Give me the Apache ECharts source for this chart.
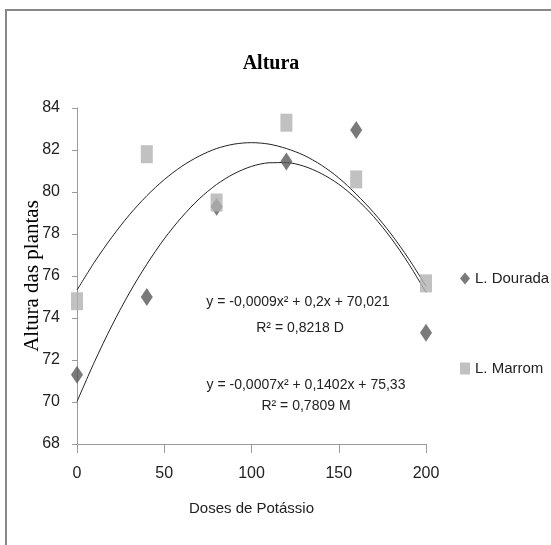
<!DOCTYPE html>
<html>
<head>
<meta charset="utf-8">
<script src="https://cdn.jsdelivr.net/npm/echarts@6/dist/echarts.min.js"></script>
<style>
  html, body { margin: 0; padding: 0; background: #fff; }
  #chart { width: 551px; height: 545px; }
</style>
</head>
<body>
<div id="chart"></div>
<script>
// doses de potassio
var doses = [0, 40, 80, 120, 160, 200];
var dourada = [71.3, 75.0, 79.3, 81.45, 82.95, 73.3];
var marrom = [74.8, 81.8, 79.5, 83.3, 80.6, 75.65];

// linhas de tendencia
var trendX = [0, 10, 20, 30, 40, 50, 60, 70, 80, 90, 100, 110, 120, 130, 140, 150, 160, 170, 180, 190, 200];
var trendD = [70.02, 71.91, 73.64, 75.19, 76.56, 77.77, 78.8, 79.67, 80.36, 80.87, 81.22,
              81.39, 81.4, 81.23, 80.88, 80.37, 79.68, 78.83, 77.8, 76.59, 75.22];
var trendM = [75.33, 76.66, 77.85, 78.91, 79.82, 80.59, 81.22, 81.71, 82.07, 82.28, 82.35,
              82.28, 82.07, 81.75, 81.28, 80.67, 79.9, 79.02, 78.0, 76.83, 75.52];

var yTicks = [68, 84, 2];
var xTicks = [0, 200, 50];

var sans = "'Liberation Sans', Arial, sans-serif";
var serif = "'Liberation Serif', 'DejaVu Serif', serif";

function pairs(xs, ys) {
  return xs.map(function (x, i) { return [x, ys[i]]; });
}

function eqText(txt, cx, cy) {
  return {
    type: 'text', x: cx, y: cy,
    style: { text: txt, fontFamily: sans, fontSize: 14, fill: '#222', align: 'center', verticalAlign: 'middle' }
  };
}

var chart = echarts.init(document.getElementById('chart'));
var option = {
  animation: false,
  backgroundColor: '#fff',
  title: {
    text: 'Altura',
    left: 266,
    textAlign: 'center',
    top: 49,
    textStyle: { fontFamily: serif, fontWeight: 'bold', fontSize: 20, color: '#000' }
  },
  graphic: [
    {
      type: 'rect',
      shape: { x: 6, y: 10, width: 600, height: 600 },
      style: { fill: 'none', stroke: '#888', lineWidth: 2 },
      silent: true
    },
    eqText('y = -0,0009x² + 0,2x + 70,021', 298, 302),
    eqText('R² = 0,8218 D', 300, 328),
    eqText('y = -0,0007x² + 0,1402x + 75,33', 306, 385),
    eqText('R² = 0,7809 M', 306, 406)
  ],
  legend: {
    orient: 'vertical',
    left: 455,
    top: 266,
    itemGap: 75,
    itemWidth: 10,
    itemHeight: 12,
    textStyle: { fontFamily: sans, fontSize: 15, color: '#222' },
    data: [
      { name: 'L. Dourada', icon: 'diamond' },
      { name: 'L. Marrom', icon: 'rect' }
    ]
  },
  grid: { left: 77, right: 125, top: 108, bottom: 101 },
  xAxis: {
    type: 'value',
    min: xTicks[0],
    max: xTicks[1],
    interval: xTicks[2],
    name: 'Doses de Potássio',
    nameLocation: 'middle',
    nameGap: 57,
    nameMoveOverlap: false,
    nameTextStyle: { fontFamily: sans, fontSize: 15, color: '#222' },
    axisLine: { lineStyle: { color: '#9a9a9a' } },
    axisTick: { length: 9, lineStyle: { color: '#9a9a9a' } },
    axisLabel: { margin: 22, fontFamily: sans, fontSize: 16, color: '#222' },
    splitLine: { show: false }
  },
  yAxis: {
    type: 'value',
    min: yTicks[0],
    max: yTicks[1],
    interval: yTicks[2],
    name: 'Altura das plantas',
    nameLocation: 'middle',
    nameGap: 34,
    nameMoveOverlap: false,
    nameTextStyle: { fontFamily: serif, fontSize: 21, color: '#000' },
    axisLine: { show: true, lineStyle: { color: '#9a9a9a' } },
    axisTick: { show: true, length: 5, lineStyle: { color: '#9a9a9a' } },
    axisLabel: { margin: 17, fontFamily: sans, fontSize: 16, color: '#222' },
    splitLine: { show: false }
  },
  series: [
    {
      name: 'tendD',
      type: 'line',
      data: pairs(trendX, trendD),
      smooth: 0.3,
      showSymbol: false,
      lineStyle: { color: '#222', width: 1 },
      silent: true,
      z: 1
    },
    {
      name: 'tendM',
      type: 'line',
      data: pairs(trendX, trendM),
      smooth: 0.3,
      showSymbol: false,
      lineStyle: { color: '#222', width: 1 },
      silent: true,
      z: 1
    },
    {
      name: 'L. Dourada',
      type: 'scatter',
      symbol: 'diamond',
      symbolSize: [12, 18],
      itemStyle: { color: '#595959' },
      data: pairs(doses, dourada),
      z: 2
    },
    {
      name: 'L. Marrom',
      type: 'scatter',
      symbol: 'rect',
      symbolSize: [12, 18],
      itemStyle: { color: '#b2b2b2' },
      data: pairs(doses, marrom),
      z: 3
    }
  ]
};
chart.setOption(option);
</script>
</body>
</html>
